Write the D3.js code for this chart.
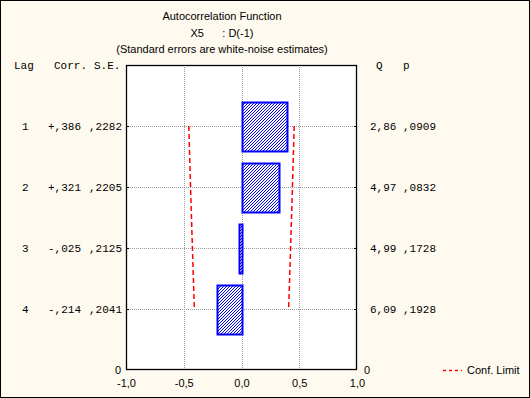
<!DOCTYPE html>
<html>
<head>
<meta charset="utf-8">
<script src="https://cdn.jsdelivr.net/npm/d3@7"></script>
<style>
  body { margin: 0; }
  svg { display: block; }
  .sans { font-family: "Liberation Sans", Arial, sans-serif; font-size: 11px; fill: #000; }
  .mono { font-family: "Liberation Mono", "Courier New", monospace; font-size: 11px; fill: #000; }
</style>
</head>
<body>
<script>
'use strict';

// data
var lags  = [1, 2, 3, 4];
var corr  = [0.386, 0.321, -0.025, -0.214];
var se    = [0.2282, 0.2205, 0.2125, 0.2041];
var qStat = [2.86, 4.97, 4.99, 6.09];
var pVal  = [0.0909, 0.0832, 0.1728, 0.1928];
var xTicks = [-1, -0.5, 0, 0.5, 1];
var titles = ["Autocorrelation Function", "X5      : D(-1)", "(Standard errors are white-noise estimates)"];

var W = 530, H = 398,
    plot = {left: 126, right: 357, top: 65, bottom: 370};

var svg = d3.select("body").append("svg").attr("width", W).attr("height", H);

var xScale = d3.scaleLinear().domain([-1, 1]).range([plot.left, plot.right]),
    yScale = d3.scaleLinear().domain([0, 5]).range([plot.bottom, plot.top]);

function yLag(lag) { return yScale(5 - lag); }
function comma(s) { return s.replace(".", ","); }
function noLead(v, n) { return comma(Math.abs(v).toFixed(n).replace(/^0/, "")); }

// background + frame
svg.append("rect").attr("x", 0.5).attr("y", 0.5).attr("width", W - 1).attr("height", H - 1)
    .style("fill", "#fffaf0").style("stroke", "#000");
svg.append("rect").attr("x", plot.left).attr("y", plot.top)
    .attr("width", plot.right - plot.left).attr("height", plot.bottom - plot.top)
    .style("fill", "#fff");

// hatch pattern, pixel diagonals "/"
var pat = svg.append("defs").append("pattern")
    .attr("id", "hatch").attr("patternUnits", "userSpaceOnUse")
    .attr("width", 3).attr("height", 3);
pat.append("rect").attr("width", 3).attr("height", 3).style("fill", "#fff");
[[0, 2], [1, 1], [2, 0]].forEach(function(p){
    pat.append("rect").attr("x", p[0]).attr("y", p[1]).attr("width", 1).attr("height", 1)
        .style("fill", "#0000ff").attr("shape-rendering", "crispEdges");
});

// titles
svg.selectAll("text.title").data(titles).enter().append("text")
    .attr("class", "sans title")
    .attr("x", 222).attr("y", function(d, i){ return 20 + i * 16.5; })
    .attr("text-anchor", "middle")
    .style("white-space", "pre").attr("xml:space", "preserve")
    .text(function(d){ return d; });

// grid lines
var grid = svg.append("g").style("stroke", "#999").style("stroke-dasharray", "1,1").style("stroke-width", 1);
grid.selectAll("line.v").data([-0.5, 0, 0.5]).enter().append("line")
    .attr("x1", function(d){ return Math.round(xScale(d)) + 0.5; })
    .attr("x2", function(d){ return Math.round(xScale(d)) + 0.5; })
    .attr("y1", plot.top).attr("y2", plot.bottom);
grid.selectAll("line.h").data(lags).enter().append("line")
    .attr("y1", function(d){ return Math.round(yLag(d)) + 0.5; })
    .attr("y2", function(d){ return Math.round(yLag(d)) + 0.5; })
    .attr("x1", plot.left).attr("x2", plot.right);

// bars, each spanning lag ± 0.4
var half = yScale(0) - yScale(0.4);
svg.selectAll("rect.bar").data(lags).enter().append("rect")
    .attr("class", "bar")
    .attr("x", function(d, i){ return Math.round(xScale(Math.min(0, corr[i]))) + 0.5; })
    .attr("width", function(d, i){ return Math.max(2, Math.round(Math.abs(xScale(corr[i]) - xScale(0)))); })
    .attr("y", function(d){ return Math.round(yLag(d) - half) + 0.5; })
    .attr("height", Math.round(2 * half))
    .style("fill", "url(#hatch)").style("stroke", "#0000ff").style("stroke-width", 2);

// confidence limits (±2 S.E.)
var conf = d3.line()
    .x(function(d){ return xScale(d[0]); })
    .y(function(d){ return yLag(d[1]); });
[1, -1].forEach(function(sign){
    svg.append("path")
        .attr("d", conf(lags.map(function(l, i){ return [sign * 2 * se[i], l]; })))
        .style("fill", "none").style("stroke", "#ff0000").style("stroke-width", 1.5)
        .style("stroke-dasharray", "5,3");
});

// plot frame
svg.append("rect").attr("x", plot.left + 0.5).attr("y", plot.top + 0.5)
    .attr("width", plot.right - plot.left - 1).attr("height", plot.bottom - plot.top - 1)
    .style("fill", "none").style("stroke", "#000").style("stroke-width", 1.3);

// inward ticks on left/right
var ticks = svg.append("g").style("stroke", "#000");
lags.forEach(function(l){
    var y = Math.round(yLag(l)) + 0.5;
    ticks.append("line").attr("x1", plot.left).attr("x2", plot.left + 3).attr("y1", y).attr("y2", y);
    ticks.append("line").attr("x1", plot.right - 3).attr("x2", plot.right).attr("y1", y).attr("y2", y);
});

// x axis labels
var xAxis = d3.axisBottom(xScale).tickValues(xTicks).tickSize(0).tickPadding(9)
    .tickFormat(function(d){ return comma(d.toFixed(1)); });
var gx = svg.append("g").attr("transform", "translate(0," + plot.bottom + ")").call(xAxis);
gx.select(".domain").remove();
gx.selectAll("text").attr("class", "sans").style("font-size", "11px")
    .style("font-family", "'Liberation Sans', Arial, sans-serif").attr("fill", "#000");

// zero labels at the base of the y axes
var zero = d3.format("d")(yScale.domain()[0]);
svg.append("text").attr("class", "sans").attr("x", 118).attr("y", plot.bottom + 4)
    .attr("text-anchor", "middle").text(zero);
svg.append("text").attr("class", "sans").attr("x", 367).attr("y", plot.bottom + 4)
    .attr("text-anchor", "middle").text(zero);

// column headers
[["Lag", 14], ["Corr.", 54], ["S.E.", 94], ["Q", 376], ["p", 403]].forEach(function(h){
    svg.append("text").attr("class", "mono").attr("x", h[1]).attr("y", plot.top + 4).text(h[0]);
});

// table rows
var rows = svg.selectAll("g.row").data(lags).enter().append("g")
    .attr("class", "row")
    .attr("transform", function(d){ return "translate(0," + (yLag(d) + 4) + ")"; });
rows.append("text").attr("class", "mono").attr("x", 22).text(function(d){ return d; });
rows.append("text").attr("class", "mono").attr("x", 48)
    .text(function(d, i){ return (corr[i] < 0 ? "-" : "+") + noLead(corr[i], 3); });
rows.append("text").attr("class", "mono").attr("x", 89)
    .text(function(d, i){ return noLead(se[i], 4); });
rows.append("text").attr("class", "mono").attr("x", 370)
    .text(function(d, i){ return comma(qStat[i].toFixed(2)); });
rows.append("text").attr("class", "mono").attr("x", 403)
    .text(function(d, i){ return noLead(pVal[i], 4); });

// legend
svg.append("line").attr("x1", 443).attr("x2", 462).attr("y1", 370.5).attr("y2", 370.5)
    .style("stroke", "#ff0000").style("stroke-width", 1.3).style("stroke-dasharray", "3,3");
svg.append("text").attr("class", "sans").attr("x", 467).attr("y", 374).text("Conf. Limit");
</script>
</body>
</html>
